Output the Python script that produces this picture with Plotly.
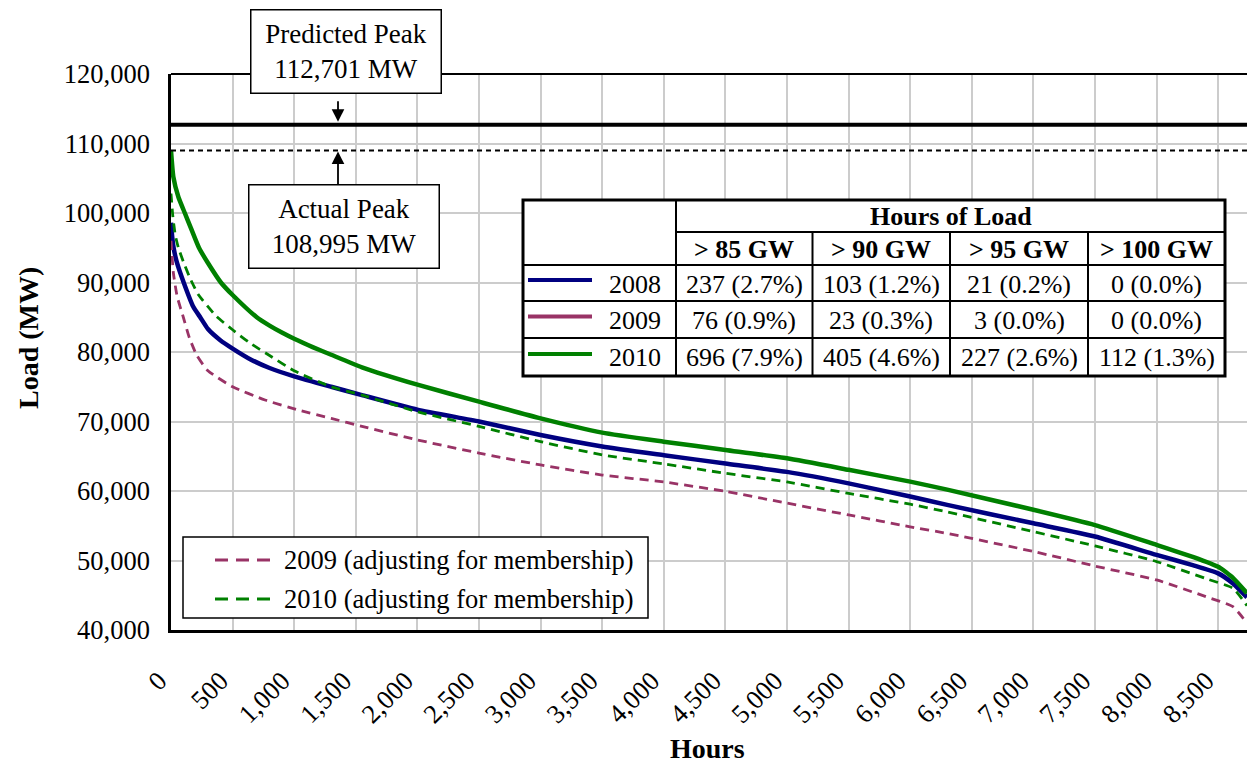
import plotly.graph_objects as go

# ---- load duration curves (hours ranked by load, MW) ----
hours_2008 = [0, 10, 21, 46, 103, 181, 237, 300, 400, 500, 650, 800, 1000, 1300, 1550, 2000,
              2500, 3000, 3500, 4000, 4500, 5000, 5500, 6000, 6300, 7000, 7500, 8000, 8300,
              8500, 8620, 8734]
load_2008 = [98600, 96500, 95000, 93000, 90000, 86500, 85000, 83300, 81700, 80500, 78900, 77700,
             76500, 75000, 73800, 71700, 70000, 68050, 66400, 65150, 63950, 62750, 61100, 59200,
             58000, 55350, 53450, 50800, 49300, 48150, 46700, 44700]

hours_2010 = [0, 19, 60, 112, 160, 227, 300, 405, 500, 696, 800, 900, 1000, 1150, 1300, 1550,
              2000, 2500, 3000, 3500, 4000, 4500, 5000, 5500, 6000, 6300, 7000, 7500, 8000,
              8300, 8500, 8620, 8734]
load_2010 = [108995, 105200, 102300, 100000, 97900, 95000, 92800, 90000, 88200, 85000, 83800,
             82800, 81900, 80700, 79600, 77800, 75300, 72850, 70450, 68400, 67100, 65900, 64700,
             63050, 61350, 60200, 57300, 55100, 52250, 50500, 49100, 47500, 45300]

hours_2009_adj = [0, 20, 50, 100, 150, 210, 300, 500, 763, 1033, 1300, 1550, 2000, 2500, 3000,
                  3500, 4000, 4500, 5000, 5500, 6000, 6300, 7000, 7500, 8000, 8400, 8620, 8734]
load_2009_adj = [96000, 91300, 88000, 85000, 82000, 79500, 77300, 75000, 73100, 71650, 70450,
                 69300, 67350, 65450, 63750, 62300, 61300, 59950, 58250, 56550, 54850, 53900,
                 51300, 49200, 47200, 44800, 43350, 41000]

hours_2010_adj = [0, 15, 35, 60, 100, 150, 220, 370, 500, 640, 800, 1000, 1300, 1550, 2000, 2500,
                  3000, 3500, 4000, 4500, 5000, 5500, 6000, 6300, 7000, 7500, 8000, 8400, 8620, 8734]
load_2010_adj = [102800, 99500, 96800, 95000, 93000, 90800, 88300, 85100, 83200, 81300, 79500,
                 77300, 75000, 73800, 71400, 69300, 67100, 65200, 63900, 62550, 61300, 59650,
                 58100, 57000, 54150, 52100, 49850, 47400, 46000, 43500]

predicted_peak = 112701
actual_peak = 108995

# ---- hours-of-load summary table ----
thresholds = ["> 85 GW", "> 90 GW", "> 95 GW", "> 100 GW"]
table_years = ["2008", "2009", "2010"]
table_rows = [
    ["237 (2.7%)", "103 (1.2%)", "21 (0.2%)", "0 (0.0%)"],
    ["76 (0.9%)", "23 (0.3%)", "3 (0.0%)", "0 (0.0%)"],
    ["696 (7.9%)", "405 (4.6%)", "227 (2.6%)", "112 (1.3%)"],
]
year_colors = ["#000080", "#993366", "#008000"]

legend_labels = ["2009 (adjusting for membership)", "2010 (adjusting for membership)"]
legend_colors = ["#993366", "#008000"]

FONT = "Liberation Serif"
W, H = 1247, 764
L, R, T, B = 171, 0, 74, 134
X_MAX = 8734


def px(xpix):
    return (xpix - L) / (W - L - R)


def py(ypix):
    return (H - B - ypix) / (H - B - T)


def label(xpix, ypix, text, size, xanchor="center", **kw):
    return dict(xref="paper", yref="paper", x=px(xpix), y=py(ypix), text=text,
                xanchor=xanchor, yanchor="middle", showarrow=False,
                font=dict(family=FONT, size=size, color="black"), **kw)


fig = go.Figure()

fig.add_trace(go.Scatter(x=hours_2008, y=load_2008, mode="lines", name="2008",
                         line=dict(color="#000080", width=4.5, shape="spline", smoothing=0.5)))
fig.add_trace(go.Scatter(x=hours_2010, y=load_2010, mode="lines", name="2010",
                         line=dict(color="#008000", width=4.5, shape="spline", smoothing=0.5)))
fig.add_trace(go.Scatter(x=hours_2009_adj, y=load_2009_adj, mode="lines", name=legend_labels[0],
                         line=dict(color="#993366", width=2.8, dash="9px,6px",
                                   shape="spline", smoothing=0.5)))
fig.add_trace(go.Scatter(x=hours_2010_adj, y=load_2010_adj, mode="lines", name=legend_labels[1],
                         line=dict(color="#008000", width=2.8, dash="9px,6px",
                                   shape="spline", smoothing=0.5)))

# peak reference lines
fig.add_trace(go.Scatter(x=[0, X_MAX], y=[predicted_peak, predicted_peak], mode="lines",
                         line=dict(color="black", width=4), showlegend=False))
fig.add_trace(go.Scatter(x=[0, X_MAX], y=[actual_peak, actual_peak], mode="lines",
                         line=dict(color="black", width=2, dash="5px,4px"), showlegend=False))

shapes = []
annotations = []

# top border of plot area
shapes.append(dict(type="line", xref="paper", yref="paper", x0=0, x1=1, y0=1, y1=1,
                   line=dict(color="black", width=2)))

# peak callouts
ARROW_X = px(338)
annotations.append(label(345.5, 51, "Predicted Peak<br>112,701 MW", 27, width=187, height=80,
                         bgcolor="white", bordercolor="black", borderwidth=1.5, borderpad=1,
                         align="center"))
annotations.append(dict(xref="paper", yref="y", x=ARROW_X, y=predicted_peak, text="",
                        showarrow=True, ax=0, ay=-25, arrowhead=2, arrowsize=1.4,
                        arrowwidth=1.8, arrowcolor="black", standoff=3))
annotations.append(label(343.5, 226.5, "Actual Peak<br>108,995 MW", 27, width=187, height=80,
                         bgcolor="white", bordercolor="black", borderwidth=1.5, borderpad=1,
                         align="center"))
annotations.append(dict(xref="paper", yref="y", x=ARROW_X, y=actual_peak, text="",
                        showarrow=True, ax=0, ay=35, arrowhead=2, arrowsize=1.4,
                        arrowwidth=1.8, arrowcolor="black", standoff=1))

# ---- table ----
TX0, TX1, TY0, TY1 = 523, 1225, 200, 376
col_edges = [523, 676, 812.5, 950, 1088, 1225]
row_edges = [200, 232, 265, 301, 338, 376]
shapes.append(dict(type="rect", xref="paper", yref="paper", x0=px(TX0), x1=px(TX1),
                   y0=py(TY1), y1=py(TY0), fillcolor="white", line=dict(color="black", width=3)))
# horizontal rules
shapes.append(dict(type="line", xref="paper", yref="paper", x0=px(col_edges[1]), x1=px(TX1),
                   y0=py(row_edges[1]), y1=py(row_edges[1]), line=dict(color="black", width=2)))
for r in row_edges[2:5]:
    shapes.append(dict(type="line", xref="paper", yref="paper", x0=px(TX0), x1=px(TX1),
                       y0=py(r), y1=py(r), line=dict(color="black", width=2)))
# vertical rules
shapes.append(dict(type="line", xref="paper", yref="paper", x0=px(col_edges[1]),
                   x1=px(col_edges[1]), y0=py(TY0), y1=py(TY1), line=dict(color="black", width=2)))
for c in col_edges[2:5]:
    shapes.append(dict(type="line", xref="paper", yref="paper", x0=px(c), x1=px(c),
                       y0=py(row_edges[1]), y1=py(TY1), line=dict(color="black", width=2)))

annotations.append(label((col_edges[1] + TX1) / 2, (row_edges[0] + row_edges[1]) / 2 + 1,
                         "<b>Hours of Load</b>", 26))
for i, t in enumerate(thresholds):
    annotations.append(label((col_edges[i + 1] + col_edges[i + 2]) / 2,
                             (row_edges[1] + row_edges[2]) / 2 + 1, "<b>" + t + "</b>", 26))
for r, (yr, vals, colr) in enumerate(zip(table_years, table_rows, year_colors)):
    yc = (row_edges[r + 2] + row_edges[r + 3]) / 2 + 1
    shapes.append(dict(type="line", xref="paper", yref="paper", x0=px(528), x1=px(592),
                       y0=py(yc - 4), y1=py(yc - 4), line=dict(color=colr, width=4)))
    annotations.append(label(663, yc, yr, 26, xanchor="right"))
    for i, v in enumerate(vals):
        annotations.append(label((col_edges[i + 1] + col_edges[i + 2]) / 2, yc, v, 26))

# ---- legend box for adjusted curves ----
shapes.append(dict(type="rect", xref="paper", yref="paper", x0=px(183), x1=px(648),
                   y0=py(618), y1=py(537), fillcolor="white",
                   line=dict(color="black", width=1.5)))
for k, (lab, colr) in enumerate(zip(legend_labels, legend_colors)):
    yc = 560 + 39 * k
    shapes.append(dict(type="line", xref="paper", yref="paper", x0=px(215), x1=px(272),
                       y0=py(yc), y1=py(yc), line=dict(color=colr, width=3, dash="13px,8px")))
    annotations.append(label(282, yc, lab, 26.5, xanchor="left"))

# axis titles
annotations.append(label(707, 748, "<b>Hours</b>", 28))
annotations.append(label(28, 338, "<b>Load (MW)</b>", 28, textangle=-90))

fig.update_layout(
    width=W, height=H,
    margin=dict(l=L, r=R, t=T, b=B),
    paper_bgcolor="white", plot_bgcolor="white",
    showlegend=False,
    font=dict(family=FONT, size=26, color="black"),
    shapes=shapes, annotations=annotations,
)
fig.update_xaxes(range=[0, X_MAX], tick0=0, dtick=500, tickformat=",d", tickangle=-45,
                 showgrid=True, gridcolor="#cccccc", gridwidth=1.5,
                 showline=True, linecolor="black", linewidth=2.5, ticks="",
                 ticklabelstandoff=22, ticklabelshift=-12, zeroline=False,
                 tickfont=dict(family=FONT, size=26.5, color="black"))
fig.update_yaxes(range=[40000, 120000], dtick=10000, tickformat=",d",
                 showgrid=True, gridcolor="#cccccc", gridwidth=1.5,
                 showline=True, linecolor="black", linewidth=2.5, ticks="",
                 ticklabelstandoff=13, zeroline=False,
                 tickfont=dict(family=FONT, size=26.5, color="black"))

fig.write_html("out.html")
